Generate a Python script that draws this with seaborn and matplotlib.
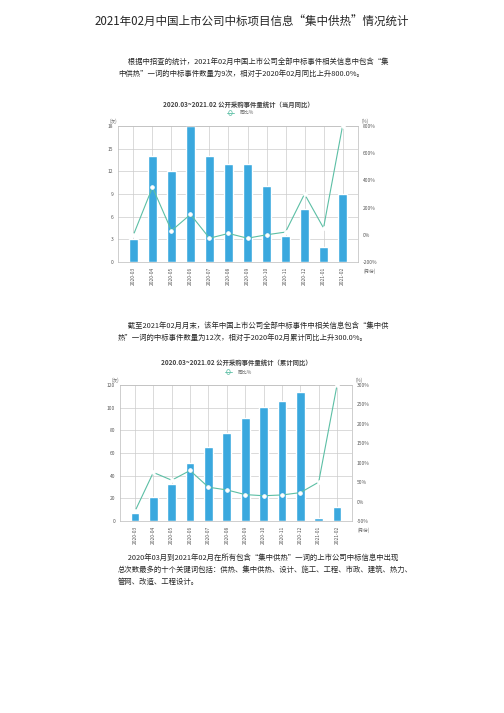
import matplotlib
matplotlib.use("Agg")
import matplotlib.pyplot as plt
import seaborn as sns
import pandas as pd

sns.set_style("white")
plt.rcParams['font.family'] = ['Noto Sans CJK SC', 'DejaVu Sans']

months = ["2020-03","2020-04","2020-05","2020-06","2020-07","2020-08","2020-09","2020-10","2020-11","2020-12","2021-01","2021-02"]
monthly_counts = [3, 14, 12, 18, 14, 13, 13, 10, 3.5, 7, 2, 9]
monthly_yoy = [0, 350, 30, 150, -25, 10, -25, 0, 20, 300, 50, 800]
cum_counts = [7, 21, 33, 51, 65, 78, 91, 101, 106, 114, 3, 12]
cum_yoy = [-25, 75, 55, 80, 37, 30, 18, 15, 17, 23, 50, 300]

BAR = "#3aa8de"
LINE = "#5cbfa5"

fig = plt.figure(figsize=(5.04, 7.13), dpi=100)
W, H = 504, 713

def txt(x, y, s, size=6.3, **kw):
    fig.text(x / W, 1 - y / H, s, fontsize=size, va="center", **kw)

txt(252, 22, "2021年02月中国上市公司中标项目信息“集中供热”情况统计", size=8.3, ha="center")
txt(118, 62, "      根据中招查的统计，2021年02月中国上市公司全部中标事件相关信息中包含“集", size=5.3)
txt(118, 74, "中供热”一词的中标事件数量为9次，相对于2020年02月同比上升800.0%。", size=5.3)
txt(118, 326, "      截至2021年02月月末，该年中国上市公司全部中标事件中相关信息包含“集中供", size=5.3)
txt(118, 338, "热”一词的中标事件数量为12次，相对于2020年02月累计同比上升300.0%。", size=5.3)
txt(118, 558, "      2020年03月到2021年02月在所有包含“集中供热”一词的上市公司中标信息中出现", size=5.3)
txt(118, 570, "总次数最多的十个关键词包括：供热、集中供热、设计、施工、工程、市政、建筑、热力、", size=5.3)
txt(118, 582, "管网、改造、工程设计。", size=5.3)

def chart(rect, title, counts, yoy, ymax, ystep, rmin, rmax, rstep, ty):
    l, t, r, b = rect
    ax = fig.add_axes([l / W, 1 - b / H, (r - l) / W, (b - t) / H])
    df = pd.DataFrame({"m": months, "c": counts, "y": yoy})
    sns.barplot(data=df, x="m", y="c", color=BAR, ax=ax, width=0.48, saturation=1)
    ax.set_ylim(0, ymax)
    ax.set_yticks(range(0, ymax + 1, ystep))
    ax.grid(True, color="#cccccc", lw=0.5)
    ax.set_axisbelow(True)
    ax.set_xlabel(""); ax.set_ylabel("")
    ax.tick_params(axis="x", labelrotation=90, labelsize=3.5, colors="#555555", length=0)
    ax.tick_params(axis="y", labelsize=3.5, colors="#555555", length=0)
    for s in ax.spines.values():
        s.set_color("#bbbbbb"); s.set_linewidth(0.5)
    ax2 = ax.twinx()
    sns.lineplot(x=list(range(len(months))), y=yoy, ax=ax2, color=LINE, lw=0.8,
                 marker="o", markersize=2.5, markerfacecolor="white", markeredgecolor="white", zorder=5)
    ax2.set_ylim(rmin, rmax)
    ax2.set_yticks(range(rmin, rmax + 1, rstep))
    ax2.set_yticklabels([f"{v}%" for v in range(rmin, rmax + 1, rstep)])
    ax2.tick_params(axis="y", labelsize=3.5, colors="#555555", length=0)
    for s in ax2.spines.values():
        s.set_visible(False)
    txt((l + r) / 2, ty, title, size=4.6, ha="center", weight="bold", color="#444444")
    fig.lines.append(plt.Line2D([(l + r) / 2 / W - 0.022, (l + r) / 2 / W - 0.008],
                                [1 - (ty + 9) / H] * 2, color=LINE, lw=0.6, transform=fig.transFigure))
    fig.patches.append(matplotlib.patches.Circle(((l + r) / 2 / W - 0.015, 1 - (ty + 9) / H), 0.0035,
                       fill=True, fc="white", ec=LINE, lw=0.5, transform=fig.transFigure))
    txt((l + r) / 2 + 2, ty + 9, "同比%", size=3.5, color="#666666")
    txt(l - 8, t - 5, "(次)", size=3.3, color="#666666")
    txt(r + 4, t - 5, "(%)", size=3.3, color="#666666")
    txt(r + 6, b + 9, "(月份)", size=3.3, color="#666666")

chart((118, 126, 358, 262), "2020.03~2021.02 公开采购事件量统计（当月同比）",
      monthly_counts, monthly_yoy, 18, 3, -200, 800, 200, 104)
chart((120, 385, 352, 521), "2020.03~2021.02 公开采购事件量统计（累计同比）",
      cum_counts, cum_yoy, 120, 20, -50, 300, 50, 363)

fig.savefig("out.png", dpi=100)
